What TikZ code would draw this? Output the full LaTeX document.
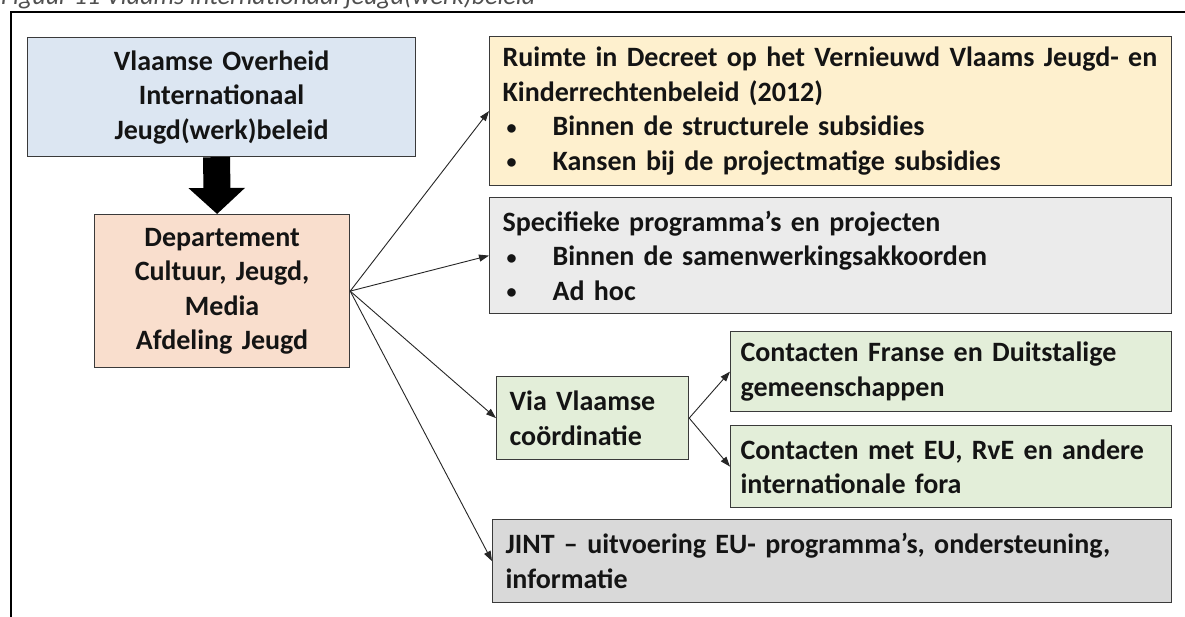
\documentclass[tikz,border=0pt]{standalone}
\usepackage{fontspec}
\setmainfont{Carlito}
\usetikzlibrary{arrows.meta}
\definecolor{txt}{HTML}{141414}
\definecolor{edge}{HTML}{3A3A3A}
\definecolor{cblue}{HTML}{DCE6F2}
\definecolor{cpeach}{HTML}{F9DECD}
\definecolor{cyellow}{HTML}{FEF0CE}
\definecolor{clgray}{HTML}{EBEBEB}
\definecolor{cgreen}{HTML}{E3EED9}
\definecolor{cdgray}{HTML}{D9D9D9}
\definecolor{captc}{HTML}{505050}
\newcommand{\bitem}[1]{\hspace*{4pt}\makebox[46pt][l]{\raisebox{1.5pt}{\fontsize{20}{20}\selectfont •}}#1}
\begin{document}
\begin{tikzpicture}[x=1pt,y=-1pt,
  box/.style={draw=edge, line width=1.2pt, inner xsep=10pt, inner ysep=0pt,
    anchor=north west, align=left, text=txt,
    font=\fontsize{28}{34.5}\selectfont\bfseries},
  conn/.style={draw=black!85, line width=0.9pt, -{Triangle[length=10pt,width=7pt]}}]
\clip (0,0) rectangle (1185,617);
\fill[white] (0,0) rectangle (1185,617);
% caption and frame
\node[anchor=base west, inner sep=0pt, text=captc, font=\fontsize{26}{30}\selectfont\itshape] (cap) at (1,4.5) {Figuur 11 Vlaams internationaal jeugd(werk)beleid};
\draw[line width=2pt] (1185,12) -- (11,12) -- (11,617);
% boxes
\node[box, fill=cblue, align=center, text width=368pt, minimum height=119pt] (A) at (27,37) {Vlaamse Overheid\\Internationaal\\Jeugd(werk)beleid};
\node[box, fill=cpeach, align=center, text width=235pt, minimum height=153pt] (B) at (94,214) {Departement\\Cultuur, Jeugd,\\Media\\Afdeling Jeugd};
\node[box, fill=cyellow, text width=656pt, minimum height=149pt, inner xsep=13pt] (C) at (489,36) {\mbox{Ruimte in Decreet op het Vernieuwd Vlaams Jeugd- en}\\Kinderrechtenbeleid (2012)\\\bitem{Binnen de structurele subsidies}\\\bitem{Kansen bij de projectmatige subsidies}};
\node[box, fill=clgray, text width=656pt, minimum height=116pt, inner xsep=13pt] (D) at (489,197) {Specifieke programma’s en projecten\\\bitem{Binnen de samenwerkingsakkoorden}\\\bitem{Ad hoc}};
\node[box, fill=cgreen, text width=166pt, minimum height=83pt, inner xsep=13pt] (E) at (496,376) {Via Vlaamse\\coördinatie};
\node[box, fill=cgreen, text width=421pt, minimum height=80pt] (F) at (730,331) {Contacten Franse en Duitstalige\\gemeenschappen};
\node[box, fill=cgreen, text width=421pt, minimum height=82pt] (G) at (730,425) {Contacten met EU, RvE en andere\\internationale fora};
\node[box, fill=cdgray, text width=653pt, minimum height=83pt, inner xsep=13pt] (H) at (492,519) {JINT – uitvoering EU- programma’s, ondersteuning,\\informatie};
% block arrow
\draw[line width=27pt, -{Triangle[length=26pt,width=55pt]}] ([xshift=-5pt]A.south) -- ([xshift=-5pt]B.north);
% connectors
\draw[conn] (B.east) -- (C.west);
\draw[conn] (B.east) -- (D.west);
\draw[conn] (B.east) -- (E.west);
\draw[conn] (B.east) -- (H.west);
\draw[conn] (E.east) -- (F.west);
\draw[conn] (E.east) -- (G.west);
\end{tikzpicture}
\end{document}
